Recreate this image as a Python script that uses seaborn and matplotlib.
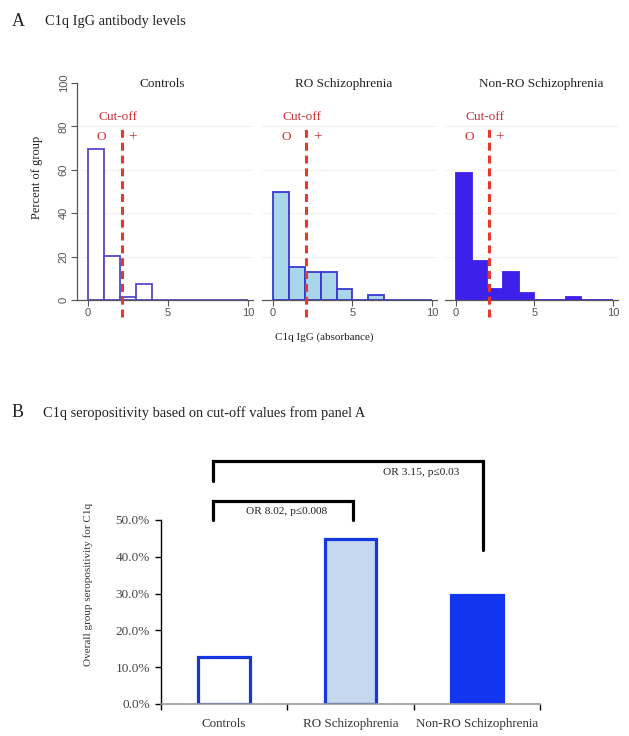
import numpy as np
import pandas as pd
import matplotlib
matplotlib.use("Agg")
import matplotlib.pyplot as plt
import seaborn as sns

# ---------------- data ----------------
groups = ["Controls", "RO Schizophrenia", "Non-RO Schizophrenia"]
bin_edges = [0, 1, 2, 3, 4, 5, 6, 7, 8, 9, 10]
controls_pct = [69.5, 20.5, 1.5, 7.5, 0, 0, 0, 0, 0, 0]
ro_pct = [49.7, 15.4, 13.1, 13.1, 5.2, 0, 2.3, 0, 0, 0]
nonro_pct = [58.5, 18.2, 4.9, 13.1, 3.1, 0, 0, 1.4, 0, 0]
cutoff = 2.1
hist_xticks = [0, 5, 10]
hist_yticks = [0, 20, 40, 60, 80, 100]

sero_labels = ["Controls", "RO Schizophrenia", "Non-RO Schizophrenia"]
sero_pct = [12.7, 44.8, 29.5]
sero_yticks = [0, 10, 20, 30, 40, 50]
or_labels = ["OR 8.02, p\u22640.008", "OR 3.15, p\u22640.03"]

# ---------------- style ----------------
sns.set_theme(style="white")
plt.rcParams["font.family"] = ["Liberation Serif", "DejaVu Serif"]

fig = plt.figure(figsize=(6.29, 7.36), dpi=100)
W, H = 629.0, 736.0

def ax_px(left, top, width, height):
    return fig.add_axes([left / W, 1 - (top + height) / H, width / W, height / H])

hist_fill = ["white", "#a9d6e8", "#3d20ea"]
hist_edge = ["#5548cc", "#3838d0", "#3d20ea"]
hist_data = [controls_pct, ro_pct, nonro_pct]
panel_geo = [(77, 176.0), (262, 174.7), (445, 172.5)]
title_x = [4.66, 4.47, 5.46]
centers = [(bin_edges[i] + bin_edges[i + 1]) / 2 for i in range(len(bin_edges) - 1)]
red_line = "#e5392a"
red_text = "#c8343a"
gray = "#555555"

for i, (g, vals) in enumerate(zip(groups, hist_data)):
    left, width = panel_geo[i]
    ax = ax_px(left, 83, width, 217)
    df = pd.DataFrame({"x": centers, "w": vals})
    sns.histplot(data=df, x="x", weights="w", bins=bin_edges, stat="count",
                 ax=ax, color=hist_fill[i], alpha=1, linewidth=1.2)
    for p in ax.patches:
        p.set_facecolor(hist_fill[i])
        p.set_edgecolor(hist_edge[i])
        p.set_linewidth(1.3)
    ax.set_xlim(-0.69, 10.3)
    ax.set_ylim(0, 100)
    ax.set_xlabel("")
    ax.set_ylabel("")
    for y in [20, 40, 60, 80]:
        ax.axhline(y, color="#f3f3f3", lw=0.8, zorder=0)
    ax.set_xticks(hist_xticks)
    ax.set_xticklabels([str(t) for t in hist_xticks], fontfamily="Liberation Sans",
                       fontsize=8, color=gray)
    ax.tick_params(axis="x", direction="out", length=4, width=0.8, color=gray,
                   bottom=True, pad=2)
    for s in ["top", "right"]:
        ax.spines[s].set_visible(False)
    ax.spines["bottom"].set_color(gray)
    ax.spines["bottom"].set_linewidth(0.9)
    if i == 0:
        ax.set_yticks(hist_yticks)
        ax.set_yticklabels([str(t) for t in hist_yticks], fontfamily="Liberation Sans",
                           fontsize=8, color=gray, rotation=90, va="center")
        ax.tick_params(axis="y", direction="out", length=4, width=0.8, color=gray,
                       left=True, pad=2)
        ax.spines["left"].set_color(gray)
        ax.spines["left"].set_linewidth(0.9)
    else:
        ax.set_yticks([])
        ax.spines["left"].set_visible(False)
    ax.set_facecolor("none")
    ax.plot([cutoff, cutoff], [-8, 80], color=red_line, lw=2.2,
            ls=(0, (2.6, 1.6)), clip_on=False, zorder=5)
    ax.text(1.84, 84.5, "Cut-off", ha="center", va="center", fontsize=9.5,
            color=red_text)
    ax.text(0.85, 75, "O", ha="center", va="center", fontsize=9.5, color=red_text)
    ax.text(2.79, 75.5, "+", ha="center", va="center", fontsize=11, color=red_text)
    ax.text(title_x[i], 99.5, g, ha="center", va="center", fontsize=9.5,
            color="#222222", clip_on=False)

fig.text(37 / W, 1 - 177 / H, "Percent of group", rotation=90, ha="center",
         va="center", fontsize=9, color="#222222")
fig.text(324.7 / W, 1 - 336.7 / H, "C1q IgG (absorbance)", ha="center",
         va="center", fontsize=8, color="#222222")

fig.text(12 / W, 1 - 22 / H, "A", ha="left", va="center", fontsize=13, color="#222222")
fig.text(45 / W, 1 - 21 / H, "C1q IgG antibody levels", ha="left", va="center",
         fontsize=10.4, color="#222222")
fig.text(12 / W, 1 - 412 / H, "B", ha="left", va="center", fontsize=13, color="#222222")
fig.text(43 / W, 1 - 413 / H, "C1q seropositivity based on cut-off values from panel A",
         ha="left", va="center", fontsize=10.4, color="#222222")

# ---------------- panel B ----------------
axb = ax_px(161, 520, 379, 184)
bdf = pd.DataFrame({"group": sero_labels, "pct": sero_pct})
sns.barplot(data=bdf, x="group", y="pct", order=sero_labels, width=0.41,
            color="white", ax=axb, saturation=1)
bar_fill = ["white", "#c5d8ee", "#1236ef"]
bar_edge = ["#1537e0", "#1537e0", "#1236ef"]
for p, fc, ec in zip(axb.patches, bar_fill, bar_edge):
    p.set_facecolor(fc)
    p.set_edgecolor(ec)
    p.set_linewidth(2.3)
axb.set_xlim(-0.5, 2.5)
axb.set_ylim(0, 50)
axb.set_xlabel("")
axb.set_ylabel("")
axb.set_yticks(sero_yticks)
axb.set_yticklabels([f"{v:.1f}%" for v in sero_yticks], fontsize=9.5, color="#444444")
axb.tick_params(axis="y", direction="out", length=4, width=1, color="black",
                left=True, pad=4)
axb.set_xticks([0, 1, 2])
axb.set_xticklabels(sero_labels, fontsize=9.4, color="#333333")
axb.tick_params(axis="x", which="major", length=0, pad=10)
axb.set_xticks([-0.5, 0.5, 1.5, 2.5], minor=True)
axb.tick_params(axis="x", which="minor", direction="out", length=4, width=1,
                color="black", bottom=True)
for s in ["top", "right"]:
    axb.spines[s].set_visible(False)
axb.spines["left"].set_color("black")
axb.spines["left"].set_linewidth(1)
axb.spines["bottom"].set_color("#999999")
axb.spines["bottom"].set_linewidth(1.2)

fig.text(88.3 / W, 1 - 584 / H, "Overall group seropositivity for C1q", rotation=90,
         ha="center", va="center", fontsize=8, color="#333333")

# brackets
axb.plot([-0.092, -0.092, 1.02, 1.02], [50, 55.2, 55.2, 50], color="black", lw=2.3,
         clip_on=False, solid_joinstyle="miter")
axb.plot([-0.092, -0.092, 2.046, 2.046], [60.7, 66.1, 66.1, 41.8], color="black",
         lw=2.3, clip_on=False, solid_joinstyle="miter")
axb.text(0.497, 52.2, or_labels[0], ha="center", va="center", fontsize=8.2,
         color="#222222", clip_on=False)
axb.text(1.56, 62.8, or_labels[1], ha="center", va="center", fontsize=8.2,
         color="#222222", clip_on=False)

fig.savefig("out.png", dpi=100)
